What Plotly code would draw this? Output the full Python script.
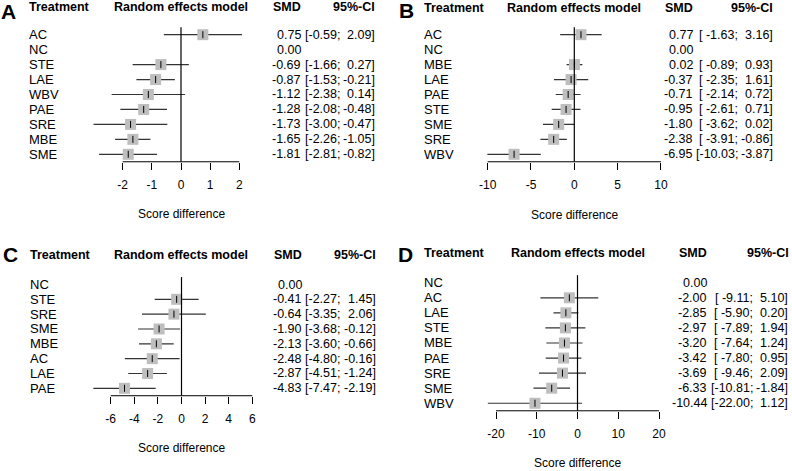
import plotly.graph_objects as go

W, H = 792, 471

# ---------------- data ----------------
a_trt = ["AC", "NC", "STE", "LAE", "WBV", "PAE", "SRE", "MBE", "SME"]
a_smd = [0.75, 0.00, -0.69, -0.87, -1.12, -1.28, -1.73, -1.65, -1.81]
a_lo = [-0.59, None, -1.66, -1.53, -2.38, -2.08, -3.00, -2.26, -2.81]
a_hi = [2.09, None, 0.27, -0.21, 0.14, -0.48, -0.47, -1.05, -0.82]
a_ticks = [-2, -1, 0, 1, 2]

b_trt = ["AC", "NC", "MBE", "LAE", "PAE", "STE", "SME", "SRE", "WBV"]
b_smd = [0.77, 0.00, 0.02, -0.37, -0.71, -0.95, -1.80, -2.38, -6.95]
b_lo = [-1.63, None, -0.89, -2.35, -2.14, -2.61, -3.62, -3.91, -10.03]
b_hi = [3.16, None, 0.93, 1.61, 0.72, 0.71, 0.02, -0.86, -3.87]
b_ticks = [-10, -5, 0, 5, 10]

c_trt = ["NC", "STE", "SRE", "SME", "MBE", "AC", "LAE", "PAE"]
c_smd = [0.00, -0.41, -0.64, -1.90, -2.13, -2.48, -2.87, -4.83]
c_lo = [None, -2.27, -3.35, -3.68, -3.60, -4.80, -4.51, -7.47]
c_hi = [None, 1.45, 2.06, -0.12, -0.66, -0.16, -1.24, -2.19]
c_ticks = [-6, -4, -2, 0, 2, 4, 6]

d_trt = ["NC", "AC", "LAE", "STE", "MBE", "PAE", "SRE", "SME", "WBV"]
d_smd = [0.00, -2.00, -2.85, -2.97, -3.20, -3.42, -3.69, -6.33, -10.44]
d_lo = [None, -9.11, -5.90, -7.89, -7.64, -7.80, -9.46, -10.81, -22.00]
d_hi = [None, 5.10, 0.20, 1.94, 1.24, 0.95, 2.09, -1.84, 1.12]
d_ticks = [-20, -10, 0, 10, 20]

# ---------------- layout geometry (pixels) ----------------
panels = [
    dict(letter="A", trt=a_trt, smd=a_smd, lo=a_lo, hi=a_hi, ticks=a_ticks,
         zero=181.0, unit=29.15, dom=(86, 272), row0=34.7, sp=14.95,
         letter_xy=(0, 12), hdr_y=7, treat_x=28, rem_x=181, smd_hdr=302, ci_hdr=376,
         smd_x=302, semi_x=340.8, end_x=376, xlab_y=214),
    dict(letter="B", trt=b_trt, smd=b_smd, lo=b_lo, hi=b_hi, ticks=b_ticks,
         zero=574.3, unit=8.665, dom=(478, 668), row0=34.7, sp=14.95,
         letter_xy=(398, 10.5), hdr_y=8, treat_x=422.7, rem_x=574, smd_hdr=694.3, ci_hdr=774.3,
         smd_x=694.3, semi_x=738.9, end_x=774.3, xlab_y=214.5),
    dict(letter="C", trt=c_trt, smd=c_smd, lo=c_lo, hi=c_hi, ticks=c_ticks,
         zero=181.5, unit=11.8, dom=(86, 272), row0=284.5, sp=14.83,
         letter_xy=(2, 254), hdr_y=255, treat_x=29, rem_x=181, smd_hdr=302.7, ci_hdr=376.7,
         smd_x=302.7, semi_x=341.3, end_x=376.7, xlab_y=448.3),
    dict(letter="D", trt=d_trt, smd=d_smd, lo=d_lo, hi=d_hi, ticks=d_ticks,
         zero=577.5, unit=4.075, dom=(480, 668), row0=282.7, sp=15.07,
         letter_xy=(397, 254), hdr_y=253, treat_x=422.7, rem_x=577.7, smd_hdr=707.7, ci_hdr=790,
         smd_x=707.7, semi_x=754.0, end_x=789.3, xlab_y=463),
]

FONT = "Liberation Sans, Arial, sans-serif"
NB = "\u00a0"
LABEL_SIZE = 13
NUM_SIZE = 12.5
HDR_SIZE = 12.5


def px(x):
    return x / W


def py(y):
    return 1 - y / H


fig = go.Figure()
annotations = []
shapes = []
layout_axes = {}

for k, p in enumerate(panels):
    sfx = "" if k == 0 else str(k + 1)
    xa, ya = "x" + sfx, "y" + sfx
    n = len(p["trt"])
    top_px = p["row0"] - 0.5 * p["sp"]
    bot_px = p["row0"] + (n - 0.5) * p["sp"]
    d0, d1 = p["dom"]
    xr = [(d0 - p["zero"]) / p["unit"], (d1 - p["zero"]) / p["unit"]]

    layout_axes["xaxis" + sfx] = dict(
        domain=[px(d0), px(d1)], range=xr, anchor=ya,
        showgrid=False, zeroline=False, showline=False,
        ticks="outside", ticklen=7, tickwidth=1, tickcolor="black",
        ticklabelstandoff=5,
        tickvals=p["ticks"], ticktext=[str(t) for t in p["ticks"]],
        tickfont=dict(family=FONT, size=12, color="black"), fixedrange=True,
    )
    layout_axes["yaxis" + sfx] = dict(
        domain=[py(bot_px), py(top_px)], range=[n - 0.5, -0.5], anchor=xa,
        visible=False, fixedrange=True,
    )

    idx = list(range(n))
    # CI lines
    xs, ys = [], []
    for i in idx:
        if p["lo"][i] is None:
            continue
        xs += [p["lo"][i], p["hi"][i], None]
        ys += [i, i, None]
    fig.add_trace(go.Scatter(x=xs, y=ys, mode="lines", xaxis=xa, yaxis=ya,
                             line=dict(color="#333333", width=1.2),
                             hoverinfo="skip", showlegend=False))
    ex = [p["smd"][i] for i in idx if p["lo"][i] is not None]
    ey = [i for i in idx if p["lo"][i] is not None]
    fig.add_trace(go.Scatter(x=ex, y=ey, mode="markers", xaxis=xa, yaxis=ya,
                             marker=dict(symbol="square", size=11, color="#bebebe",
                                         line=dict(width=0)),
                             hoverinfo="skip", showlegend=False, cliponaxis=False))
    fig.add_trace(go.Scatter(x=ex, y=ey, mode="markers", xaxis=xa, yaxis=ya,
                             marker=dict(symbol="line-ns", size=5,
                                         line=dict(color="black", width=1)),
                             hoverinfo="skip", showlegend=False, cliponaxis=False))

    # axis line and zero line
    shapes.append(dict(type="line", xref=xa, yref=ya + " domain",
                       x0=p["ticks"][0], x1=p["ticks"][-1], y0=0, y1=0,
                       line=dict(color="black", width=1)))
    shapes.append(dict(type="line", xref=xa, yref=ya + " domain",
                       x0=0, x1=0, y0=0, y1=1, line=dict(color="black", width=1.2)))

    # text columns
    lo_strs = [f"{v:.2f}" for v in p["lo"] if v is not None]
    w = max(len(s) for s in lo_strs)
    nf = dict(family=FONT, size=NUM_SIZE, color="black")
    for i in idx:
        annotations.append(dict(x=px(p["treat_x"]), y=i, xref="paper", yref=ya,
                                text=p["trt"][i], xanchor="left", yanchor="middle",
                                showarrow=False, borderpad=0,
                                font=dict(family=FONT, size=LABEL_SIZE, color="black")))
        annotations.append(dict(x=px(p["smd_x"]), y=i, xref="paper", yref=ya,
                                text=f"{p['smd'][i]:.2f}", xanchor="right", yanchor="middle",
                                showarrow=False, borderpad=0, font=nf))
        if p["lo"][i] is not None:
            lo_s = f"{p['lo'][i]:.2f}".rjust(w).replace(" ", NB)
            annotations.append(dict(x=px(p["semi_x"]), y=i, xref="paper", yref=ya,
                                    text="[" + lo_s + ";", xanchor="right", yanchor="middle",
                                    showarrow=False, borderpad=0, font=nf))
            annotations.append(dict(x=px(p["end_x"]), y=i, xref="paper", yref=ya,
                                    text=f"{p['hi'][i]:.2f}]", xanchor="right", yanchor="middle",
                                    showarrow=False, borderpad=0, font=nf))

    # headers
    hf = dict(family=FONT, size=HDR_SIZE, color="black")
    hy = py(p["hdr_y"])
    annotations += [
        dict(x=px(p["letter_xy"][0]), y=py(p["letter_xy"][1]), xref="paper", yref="paper",
             text="<b>" + p["letter"] + "</b>", xanchor="left", yanchor="middle",
             showarrow=False, borderpad=0, font=dict(family=FONT, size=21, color="black")),
        dict(x=px(p["treat_x"]), y=hy, xref="paper", yref="paper", text="<b>Treatment</b>",
             xanchor="left", yanchor="middle", showarrow=False, borderpad=0, font=hf),
        dict(x=px(p["rem_x"]), y=hy, xref="paper", yref="paper",
             text="<b>Random effects model</b>",
             xanchor="center", yanchor="middle", showarrow=False, borderpad=0, font=hf),
        dict(x=px(p["smd_hdr"]), y=hy, xref="paper", yref="paper", text="<b>SMD</b>",
             xanchor="right", yanchor="middle", showarrow=False, borderpad=0, font=hf),
        dict(x=px(p["ci_hdr"]), y=hy, xref="paper", yref="paper", text="<b>95%-CI</b>",
             xanchor="right", yanchor="middle", showarrow=False, borderpad=0, font=hf),
        dict(x=px(p["zero"]), y=py(p["xlab_y"]), xref="paper", yref="paper",
             text="Score difference", xanchor="center", yanchor="middle",
             showarrow=False, borderpad=0, font=dict(family=FONT, size=12, color="black")),
    ]

fig.update_layout(
    width=W, height=H, margin=dict(l=0, r=0, t=0, b=0),
    paper_bgcolor="white", plot_bgcolor="white",
    showlegend=False, annotations=annotations, shapes=shapes,
    **layout_axes,
)

fig.write_html("out.html", config={"displayModeBar": False},
               post_script="document.body.style.margin='0';document.body.style.overflow='hidden';")
